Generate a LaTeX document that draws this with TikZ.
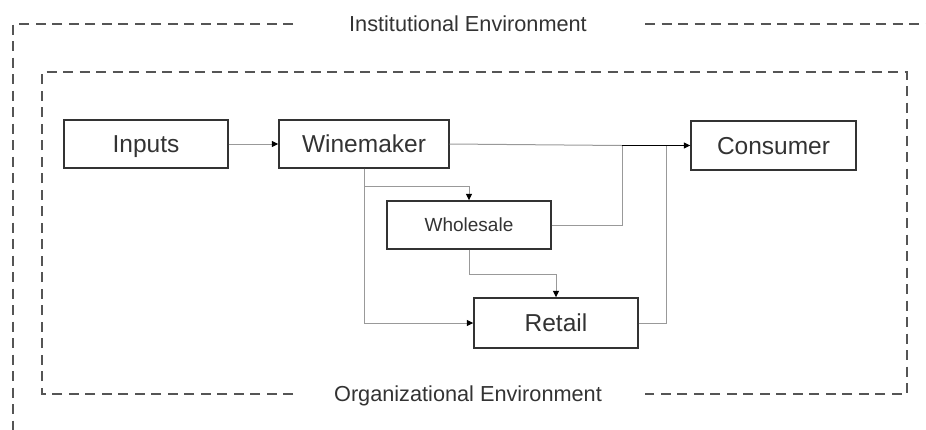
\documentclass[tikz,border=0pt]{standalone}
\usepackage{fontspec}
\setmainfont{Liberation Sans}
\usetikzlibrary{arrows.meta}
\definecolor{txt}{HTML}{333333}
\definecolor{boxc}{HTML}{333333}
\definecolor{conn}{HTML}{999999}
\definecolor{dash}{HTML}{555555}
\begin{document}
\begin{tikzpicture}[x=1pt,y=-1pt,
  box/.style={draw=boxc,line width=1.4pt,text=txt,inner sep=0pt,text height=17.5pt,text depth=0pt,font=\fontsize{24.5}{28}\selectfont},
  smallbox/.style={box,text height=13.6pt,font=\fontsize{19}{22}\selectfont},
  link/.style={draw=conn,line width=1pt},
  arr/.style={link,-{Triangle[length=6.5pt,width=6pt,fill=black,color=black]}},
  envline/.style={draw=dash,line width=1.4pt,dash pattern=on 10pt off 6.5pt},
  envlabel/.style={text=txt,font=\fontsize{21.7}{25}\selectfont,inner sep=0pt,text height=15.5pt,text depth=0pt}]
\useasboundingbox (0,0) rectangle (926,429);
% environments
\draw[envline] (293,24) -- (13,24) -- (13,440);
\draw[envline] (645,24) -- (930,24);
\node[envlabel] (inst) at (468,24) {Institutional Environment};
\draw[envline] (293,394) -- (42,394) -- (42,72) -- (907,72) -- (907,394) -- (645,394);
\node[envlabel] (org) at (468,394) {Organizational Environment};
% nodes
\node[box,minimum width=164pt,minimum height=48pt] (inp) at (146,144) {Inputs};
\node[box,minimum width=170pt,minimum height=48pt] (win) at (364,144) {Winemaker};
\node[box,minimum width=165pt,minimum height=49pt] (cons) at (773.5,145.5) {Consumer};
\node[smallbox,minimum width=164pt,minimum height=48pt] (whole) at (469,225) {Wholesale};
\node[box,minimum width=164pt,minimum height=50pt] (ret) at (556,323) {Retail};
% junctions
\coordinate (j1) at (469,186);
\coordinate (j2) at (556,274);
\coordinate (j3) at (622,145.5);
\coordinate (j4) at (666,145.5);
% connectors
\draw[arr] (inp.east) -- (win.west);
\draw[link] (win.east) -- (j3);
\draw[arr] (win.south) |- (j1) -- (whole.north);
\draw[arr] (win.south) |- (ret.west);
\draw[arr] (whole.south) |- (j2) -- (ret.north);
\draw[link] (whole.east) -| (j3);
\draw[link] (ret.east) -| (j4);
\draw[arr,draw=black] (j3) -- (cons.west);
\end{tikzpicture}
\end{document}
